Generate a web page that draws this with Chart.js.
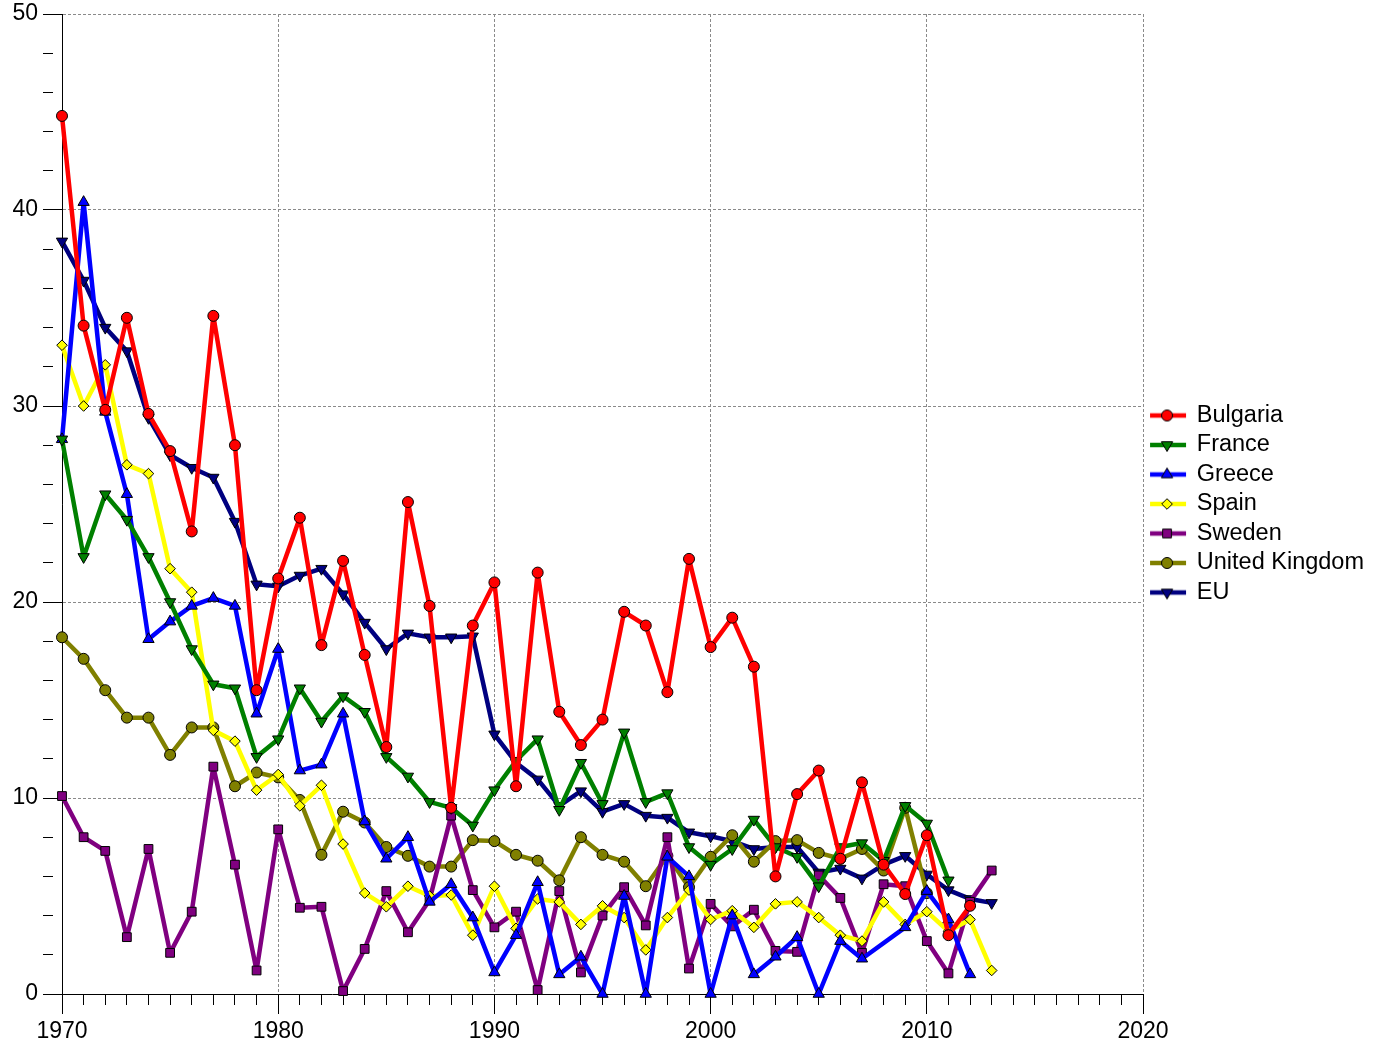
<!DOCTYPE html>
<html>
<head>
<meta charset="utf-8">
<script src="https://cdn.jsdelivr.net/npm/chart.js@4.4.0/dist/chart.umd.min.js"></script>
<style>
  html, body { margin: 0; padding: 0; background: #fff; }
  #wrap { width: 1374px; height: 1044px; }
</style>
</head>
<body>
<div id="wrap"><canvas id="chart" width="1374" height="1044"></canvas></div>
<script>
// years 1970 .. 2013
const years = []
for (let y = 1970; y <= 2013; y++) years.push(y)

const bulgaria = [44.8, 34.1, 29.8, 34.5, 29.6, 27.7, 23.6, 34.6, 28.0, 15.5,
  21.2, 24.3, 17.8, 22.1, 17.3, 12.6, 25.1, 19.8, 9.5, 18.8,
  21.0, 10.6, 21.5, 14.4, 12.7, 14.0, 19.5, 18.8, 15.4, 22.2,
  17.7, 19.2, 16.7, 6.0, 10.2, 11.4, 6.9, 10.8, 6.6, 5.1,
  8.1, 3.0, 4.5, null]
const france = [28.3, 22.3, 25.5, 24.2, 22.3, 20.0, 17.6, 15.8, 15.6, 12.1,
  13.0, 15.6, 13.9, 15.2, 14.4, 12.1, 11.1, 9.8, 9.5, 8.6,
  10.4, 11.9, 13.0, 9.4, 11.8, 9.7, 13.35, 9.8, 10.25, 7.5,
  6.6, 7.4, 8.9, 7.5, 7.0, 5.5, 7.5, 7.7, 6.8, 9.6,
  8.7, 5.8, null, null]
const greece = [28.3, 40.4, 29.7, 25.5, 18.1, 19.0, 19.8, 20.2, 19.8, 14.3,
  17.6, 11.4, 11.7, 14.3, 8.8, 6.9, 8.0, 4.7, 5.6, 3.9,
  1.1, 3.0, 5.7, 1.0, 1.9, 0, 5.0, 0, 7.0, 6.0,
  0, 4.0, 1.0, 1.9, 2.9, 0, 2.7, 1.8, null, 3.4,
  5.25, 3.8, 1.0, null]
const spain = [33.1, 30.0, 32.1, 27.0, 26.55, 21.7, 20.5, 13.45, 12.9, 10.4,
  11.2, 9.6, 10.65, 7.65, 5.15, 4.45, 5.5, 5.0, 5.05, 3.0,
  5.5, 3.35, 4.85, 4.7, 3.55, 4.5, 3.9, 2.25, 3.9, 5.3,
  3.8, 4.25, 3.4, 4.6, 4.7, 3.9, 3.0, 2.7, 4.7, 3.55,
  4.2, 3.2, 3.8, 1.2]
const sweden = [10.1, 8.0, 7.3, 2.9, 7.4, 2.1, 4.2, 11.6, 6.6, 1.2,
  8.4, 4.4, 4.45, 0.15, 2.3, 5.25, 3.15, 4.8, 9.1, 5.3,
  3.4, 4.2, 0.2, 5.25, 1.1, 4.0, 5.45, 3.5, 8.0, 1.3,
  4.6, 3.45, 4.3, 2.2, 2.15, 6.05, 4.9, 2.1, 5.6, 5.5,
  2.7, 1.05, 4.7, 6.3]
const uk = [18.2, 17.1, 15.5, 14.1, 14.1, 12.2, 13.6, 13.6, 10.6, 11.3,
  11.05, 9.9, 7.1, 9.3, 8.75, 7.5, 7.05, 6.5, 6.5, 7.85,
  7.8, 7.1, 6.8, 5.8, 8.0, 7.1, 6.75, 5.5, 7.05, 5.45,
  7.0, 8.1, 6.75, 7.8, 7.85, 7.2, 6.9, 7.4, 6.3, 9.5,
  5.15, null, null, null]
const eu = [38.4, 36.4, 34.0, 32.8, 29.4, 27.5, 26.85, 26.35, 24.1, 20.9,
  20.8, 21.35, 21.7, 20.4, 18.95, 17.6, 18.4, 18.2, 18.2, 18.25,
  13.25, 11.8, 10.95, 9.6, 10.35, 9.3, 9.7, 9.1, 9.0, 8.25,
  8.05, 7.8, 7.4, 7.5, 7.5, 6.2, 6.4, 5.9, 6.6, 7.05,
  6.1, 5.3, 4.85, 4.65]

const seriesNames = ['Bulgaria', 'France', 'Greece', 'Spain', 'Sweden', 'United Kingdom', 'EU']
const seriesValues = [bulgaria, france, greece, spain, sweden, uk, eu]

// look of each series
const seriesColors = ['#ff0000', '#008000', '#0000ff', '#ffff00', '#800080', '#808000', '#000080']
const markerStyles = ['circle', 'triangle', 'triangle', 'rectRot', 'rect', 'circle', 'triangle']
const markerRotation = [0, 180, 0, 0, 0, 0, 180]
const markerRadius = [5.5, 6.5, 6.5, 5.3, 6.2, 5.5, 6.5]

const FONT = "'Liberation Sans', Arial, sans-serif"
Chart.defaults.font.family = FONT
Chart.defaults.color = '#000'

function drawMarker(ctx, style, radius, rotation, x, y) {
  if (Chart.helpers && Chart.helpers.drawPoint) {
    Chart.helpers.drawPoint(ctx, {pointStyle: style, radius, rotation, borderWidth: 1}, x, y)
  }
}

// legend icon: short line with the marker on it
function legendIcon(i) {
  const c = document.createElement('canvas')
  c.width = 40
  c.height = 16
  const ctx = c.getContext('2d')
  ctx.strokeStyle = seriesColors[i]
  ctx.lineWidth = 4.5
  ctx.beginPath()
  ctx.moveTo(3, 8)
  ctx.lineTo(39, 8)
  ctx.stroke()
  ctx.fillStyle = seriesColors[i]
  ctx.strokeStyle = '#000'
  ctx.lineWidth = 1
  drawMarker(ctx, markerStyles[i], markerRadius[i], markerRotation[i], 20, 8)
  return c
}

const isMajor = (c, every) => c.tick && Math.round(c.tick.value) % every === 0

const datasets = seriesNames.map((name, i) => ({
  label: name,
  data: years.map((yr, k) => ({x: yr, y: seriesValues[i][k]})),
  borderColor: seriesColors[i],
  backgroundColor: seriesColors[i],
  borderWidth: 4.5,
  borderJoinStyle: 'round',
  tension: 0,
  spanGaps: true,
  clip: false,
  pointStyle: markerStyles[i],
  pointRotation: markerRotation[i],
  pointRadius: markerRadius[i],
  pointHoverRadius: markerRadius[i],
  pointBackgroundColor: seriesColors[i],
  pointBorderColor: '#000',
  pointBorderWidth: 1
}))

const icons = seriesNames.map((n, i) => legendIcon(i))

new Chart(document.getElementById('chart'), {
  type: 'line',
  data: { datasets },
  options: {
    responsive: false,
    animation: false,
    layout: { padding: { top: 14, left: 0, right: 0, bottom: 0 } },
    plugins: {
      tooltip: { enabled: false },
      legend: {
        position: 'right',
        align: 'center',
        fullSize: false,
        labels: {
          usePointStyle: true,
          pointStyleWidth: 36,
          padding: 6,
          color: '#000',
          font: { size: 23.5, family: FONT },
          generateLabels: chart => chart.data.datasets.map((ds, i) => ({
            text: ds.label,
            pointStyle: icons[i],
            datasetIndex: i,
            hidden: false,
            fillStyle: ds.backgroundColor,
            strokeStyle: ds.borderColor,
            lineWidth: 0,
            fontColor: '#000'
          }))
        }
      }
    },
    scales: {
      x: {
        type: 'linear',
        min: 1970,
        max: 2020,
        afterFit: s => { s.height = 50 },
        ticks: {
          stepSize: 1,
          autoSkip: false,
          maxRotation: 0,
          padding: 4,
          color: '#000',
          font: { size: 23 },
          callback: v => Math.round(v) % 10 === 0 ? String(v) : ''
        },
        grid: {
          color: c => isMajor(c, 10) ? '#8a8a8a' : 'transparent',
          lineWidth: 1,
          tickLength: 20,
          tickColor: '#000',
          tickBorderDash: c => isMajor(c, 10) ? [] : [10, 40]
        },
        border: { color: '#000', width: 1, dash: [3, 2] }
      },
      y: {
        min: 0,
        max: 50,
        afterFit: s => {
          s.width = 62
          s.paddingTop = 0
          s.paddingBottom = 0
        },
        ticks: {
          stepSize: 2,
          autoSkip: false,
          padding: 5,
          color: '#000',
          font: { size: 23 },
          callback: v => Math.round(v) % 10 === 0 ? String(v) : ''
        },
        grid: {
          color: c => isMajor(c, 10) ? '#8a8a8a' : 'transparent',
          lineWidth: 1,
          tickLength: 19,
          tickColor: '#000',
          tickBorderDash: c => isMajor(c, 10) ? [] : [10, 40]
        },
        border: { color: '#000', width: 1, dash: [3, 2] }
      }
    }
  }
})
</script>
</body>
</html>
